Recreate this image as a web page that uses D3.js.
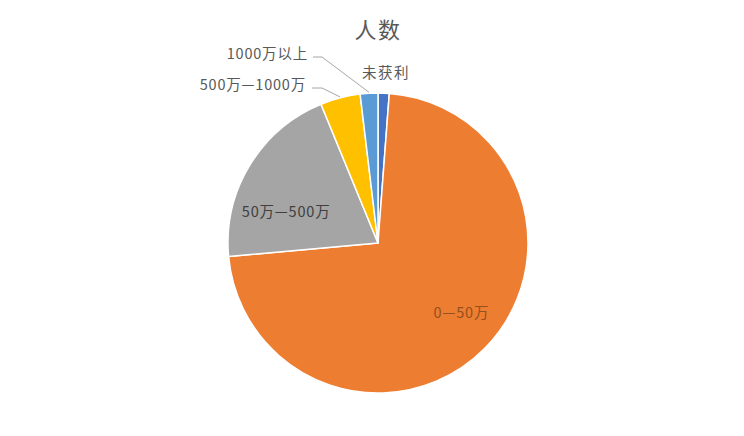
<!DOCTYPE html>
<html>
<head>
<meta charset="utf-8">
<script src="https://cdn.jsdelivr.net/npm/d3@7"></script>
<style>
  html, body { margin: 0; padding: 0; background: #fff; }
  svg { display: block; font-family: "Noto Sans CJK SC", "Noto Sans", sans-serif; }
</style>
</head>
<body>
<svg id="chart"></svg>
<script>
const title = "人数";
const categories = ["未获利", "0—50万", "50万—500万", "500万—1000万", "1000万以上"];
const values = [1.2, 72.3, 20.2, 4.3, 1.9];
const colors = ["#4472C4", "#ED7D31", "#A5A5A5", "#FFC000", "#5B9BD5"];

const width = 744, height = 436;
const cx = 378, cy = 243, radius = 150;

// label placement: "in" = inside slice, "out" = outside with leader line
const labelLayout = [
  { mode: "top", x: 386, y: 78 },
  { mode: "in", r: 109, dAngle: -4.5 },
  { mode: "in", r: 97, dAngle: -12.5 },
  { mode: "out", elbowX: 322, elbowY: 88, endX: 312, textX: 306, textY: 90 },
  { mode: "out", elbowX: 322, elbowY: 57, endX: 313, textX: 308, textY: 59 }
];

const svg = d3.select("#chart")
  .attr("width", width)
  .attr("height", height);

svg.append("text")
  .attr("x", 378)
  .attr("y", 38)
  .attr("text-anchor", "middle")
  .attr("font-size", 22)
  .attr("letter-spacing", 1.5)
  .attr("fill", "#595959")
  .text(title);

const pie = d3.pie()
  .sort(null)
  .value(d => d)
  .startAngle(0)
  .endAngle(2 * Math.PI);

const arcs = pie(values);

const arc = d3.arc()
  .innerRadius(0)
  .outerRadius(radius);

const g = svg.append("g")
  .attr("transform", `translate(${cx},${cy})`);

g.selectAll(".slice")
  .data(arcs)
  .enter().append("path")
  .attr("class", "slice")
  .attr("d", arc)
  .attr("fill", (d, i) => colors[i])
  .attr("stroke", "#fff")
  .attr("stroke-width", 1.5)
  .attr("stroke-linejoin", "round");

arcs.forEach((d, i) => {
  const lay = labelLayout[i];
  const mid = (d.startAngle + d.endAngle) / 2;
  if (lay.mode === "in") {
    const a = mid + lay.dAngle * Math.PI / 180;
    const x = lay.r * Math.sin(a);
    const y = -lay.r * Math.cos(a);
    g.append("text")
      .attr("x", x)
      .attr("y", y + 5)
      .attr("text-anchor", "middle")
      .attr("font-size", 14.5)
      .attr("letter-spacing", 0.8)
      .attr("fill", i === 1 ? "#94501e" : "#404040")
      .text(categories[i]);
  } else if (lay.mode === "out") {
    const px = (radius + 1) * Math.sin(mid);
    const py = -(radius + 1) * Math.cos(mid);
    g.append("polyline")
      .attr("points", [
        [px, py],
        [lay.elbowX - cx, lay.elbowY - cy],
        [lay.endX - cx, lay.elbowY - cy]
      ].map(p => p.join(",")).join(" "))
      .attr("fill", "none")
      .attr("stroke", "#A6A6A6")
      .attr("stroke-width", 1);
    g.append("text")
      .attr("x", lay.textX - cx)
      .attr("y", lay.textY - cy)
      .attr("text-anchor", "end")
      .attr("font-size", 14.5)
      .attr("letter-spacing", 0.8)
      .attr("fill", "#595959")
      .text(categories[i]);
  } else {
    g.append("text")
      .attr("x", lay.x - cx)
      .attr("y", lay.y - cy)
      .attr("text-anchor", "middle")
      .attr("font-size", 14.5)
      .attr("letter-spacing", 1.5)
      .attr("fill", "#595959")
      .text(categories[i]);
  }
});
</script>
</body>
</html>
